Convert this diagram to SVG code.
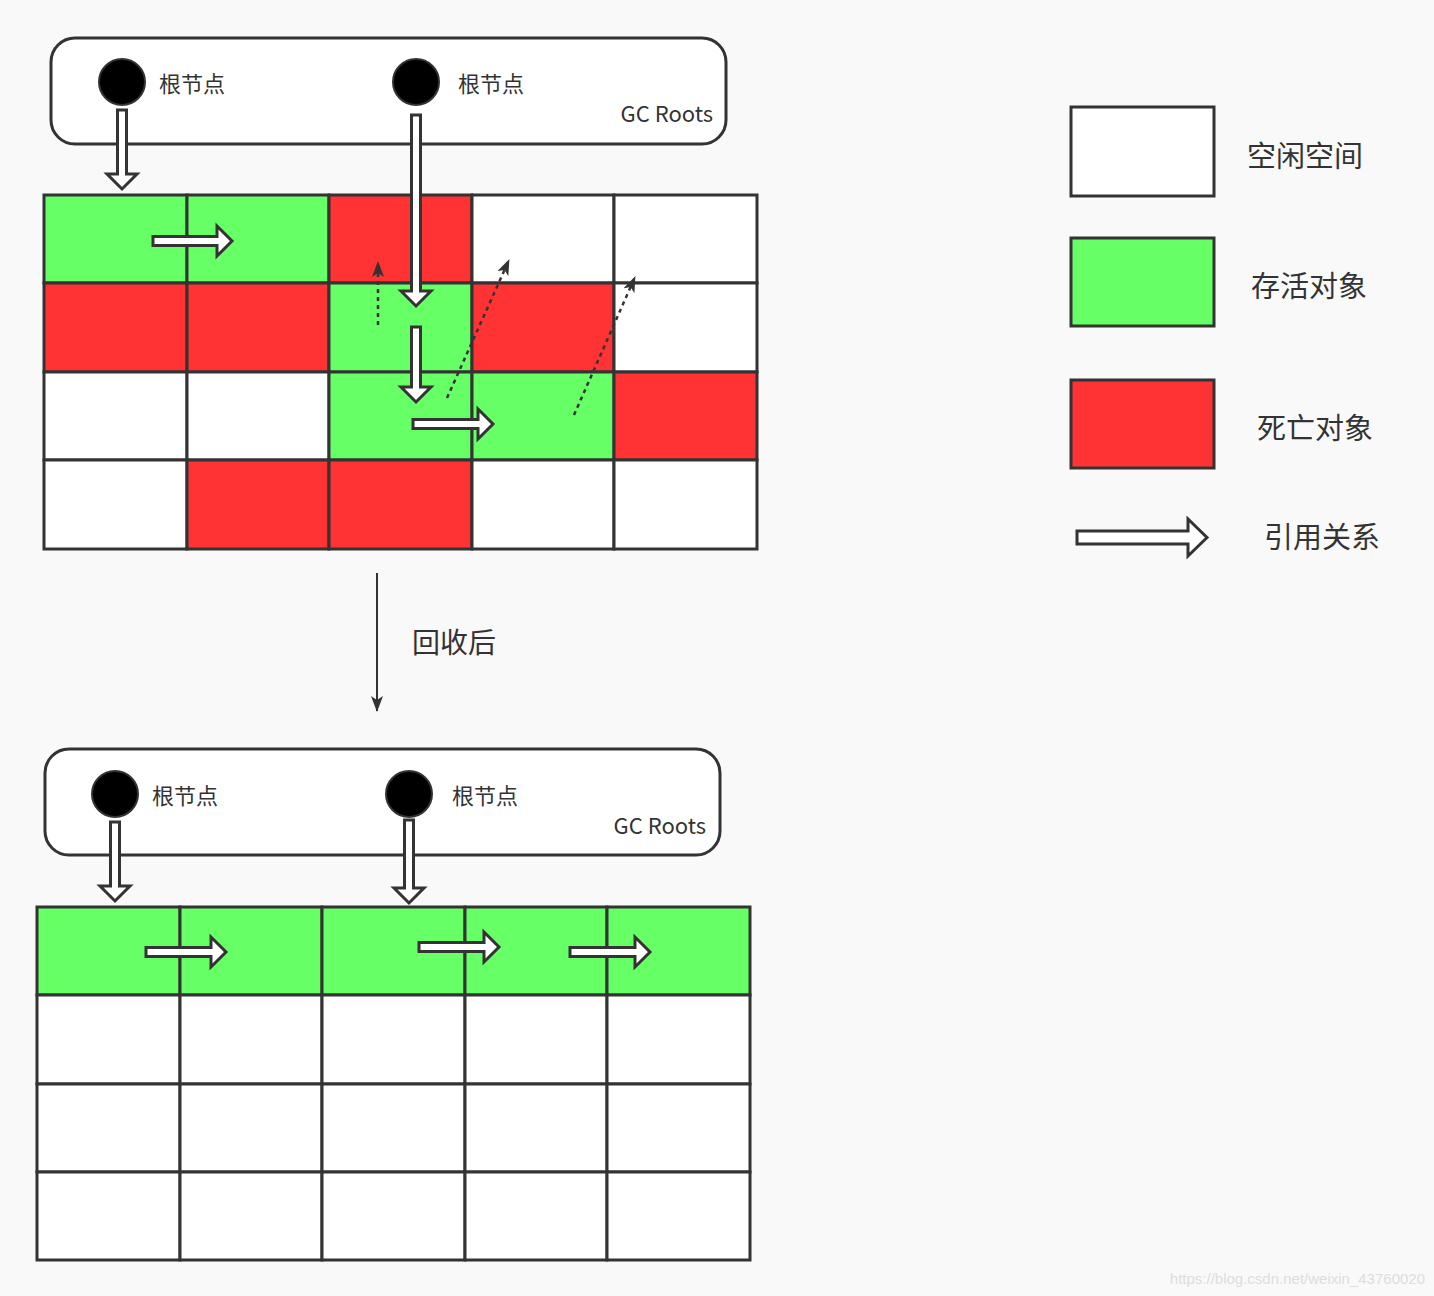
<svg xmlns="http://www.w3.org/2000/svg" width="1434" height="1296" viewBox="0 0 1434 1296">
<style>
.box{fill:#fff;stroke:#333;stroke-width:3}
.g{fill:#66ff66;stroke:#333;stroke-width:3}
.r{fill:#ff3333;stroke:#333;stroke-width:3}
.w{fill:#fff;stroke:#333;stroke-width:3}
.ha{fill:#fff;stroke:#333;stroke-width:3;stroke-linejoin:miter}
.dot{fill:none;stroke:#333;stroke-width:2.5;stroke-dasharray:4 4}
.t{font-family:"Noto Sans CJK SC","Noto Sans",sans-serif;fill:#333}
</style>
<defs>
<marker id="ah" markerWidth="10" markerHeight="10" refX="9" refY="5" orient="auto" markerUnits="userSpaceOnUse" viewBox="0 0 10 10"><path d="M0,0 L10,5 L0,10 Z" fill="#333"/></marker>
<marker id="ah2" markerWidth="16" markerHeight="12" refX="15" refY="6" orient="auto" markerUnits="userSpaceOnUse" viewBox="0 0 16 12"><path d="M0,0 L16,6 L0,12 L4,6 Z" fill="#333"/></marker>
</defs>
<rect width="1434" height="1296" fill="#f9f9f9"/>

<g id="roots-top">
<rect x="51" y="38" width="675" height="106" rx="24" class="box"/>
<ellipse cx="122" cy="82" rx="23" ry="23" fill="#000" stroke="#333" stroke-width="2"/>
<ellipse cx="416" cy="82" rx="23" ry="23" fill="#000" stroke="#333" stroke-width="2"/>
<text x="159" y="92" font-size="22" class="t">根节点</text>
<text x="458" y="92" font-size="22" class="t">根节点</text>
<text x="713" y="122" font-size="22" class="t" text-anchor="end">GC Roots</text>
</g>

<g id="grid-top">
<rect x="44" y="195" width="143" height="88" class="g"/><rect x="187" y="195" width="142" height="88" class="g"/><rect x="329" y="195" width="143" height="88" class="r"/><rect x="472" y="195" width="142" height="88" class="w"/><rect x="614" y="195" width="143" height="88" class="w"/>
<rect x="44" y="283" width="143" height="89" class="r"/><rect x="187" y="283" width="142" height="89" class="r"/><rect x="329" y="283" width="143" height="89" class="g"/><rect x="472" y="283" width="142" height="89" class="r"/><rect x="614" y="283" width="143" height="89" class="w"/>
<rect x="44" y="372" width="143" height="88" class="w"/><rect x="187" y="372" width="142" height="88" class="w"/><rect x="329" y="372" width="143" height="88" class="g"/><rect x="472" y="372" width="142" height="88" class="g"/><rect x="614" y="372" width="143" height="88" class="r"/>
<rect x="44" y="460" width="143" height="89" class="w"/><rect x="187" y="460" width="142" height="89" class="r"/><rect x="329" y="460" width="143" height="89" class="r"/><rect x="472" y="460" width="142" height="89" class="w"/><rect x="614" y="460" width="143" height="89" class="w"/>
</g>

<g id="grid-bottom">
<rect x="37" y="907" width="143" height="88" class="g"/><rect x="180" y="907" width="142" height="88" class="g"/><rect x="322" y="907" width="143" height="88" class="g"/><rect x="465" y="907" width="142" height="88" class="g"/><rect x="607" y="907" width="143" height="88" class="g"/>
<rect x="37" y="995" width="143" height="89" class="w"/><rect x="180" y="995" width="142" height="89" class="w"/><rect x="322" y="995" width="143" height="89" class="w"/><rect x="465" y="995" width="142" height="89" class="w"/><rect x="607" y="995" width="143" height="89" class="w"/>
<rect x="37" y="1084" width="143" height="88" class="w"/><rect x="180" y="1084" width="142" height="88" class="w"/><rect x="322" y="1084" width="143" height="88" class="w"/><rect x="465" y="1084" width="142" height="88" class="w"/><rect x="607" y="1084" width="143" height="88" class="w"/>
<rect x="37" y="1172" width="143" height="88" class="w"/><rect x="180" y="1172" width="142" height="88" class="w"/><rect x="322" y="1172" width="143" height="88" class="w"/><rect x="465" y="1172" width="142" height="88" class="w"/><rect x="607" y="1172" width="143" height="88" class="w"/>
</g>

<g id="roots-bottom">
<rect x="45" y="749" width="675" height="106" rx="24" class="box"/>
<ellipse cx="115" cy="794" rx="23" ry="23" fill="#000" stroke="#333" stroke-width="2"/>
<ellipse cx="409" cy="794" rx="23" ry="23" fill="#000" stroke="#333" stroke-width="2"/>
<text x="152" y="804" font-size="22" class="t">根节点</text>
<text x="452" y="804" font-size="22" class="t">根节点</text>
<text x="706" y="834" font-size="22" class="t" text-anchor="end">GC Roots</text>
</g>

<g id="connectors">
<path class="ha" d="M117.5,110 H126.5 V174 H137 L122,189 L107,174 H117.5 Z"/>
<path class="ha" d="M411.5,115 H420.5 V291 H431 L416,306 L401,291 H411.5 Z"/>
<path class="ha" d="M411.5,327 H420.5 V387 H431 L416,402 L401,387 H411.5 Z"/>
<path class="ha" d="M153,236.5 V245.5 H217 V256 L232,241 L217,226 V236.5 Z"/>
<path class="ha" d="M413,419.5 V428.5 H478 V439 L493,424 L478,409 V419.5 Z"/>
<path class="dot" d="M378,325 V262" marker-end="url(#ah2)"/>
<path class="dot" d="M447,398 L509,260" marker-end="url(#ah2)"/>
<path class="dot" d="M574,415 L635,277" marker-end="url(#ah2)"/>
<path d="M377,573 V711" stroke="#333" stroke-width="2" fill="none" marker-end="url(#ah2)"/>
<path class="ha" d="M110.5,822 H119.5 V886 H130 L115,901 L100,886 H110.5 Z"/>
<path class="ha" d="M404.5,820 H413.5 V888 H424 L409,903 L394,888 H404.5 Z"/>
<path class="ha" d="M146,947.5 V956.5 H211 V967 L226,952 L211,937 V947.5 Z"/>
<path class="ha" d="M419,942.5 V951.5 H484 V962 L499,947 L484,932 V942.5 Z"/>
<path class="ha" d="M570,947.5 V956.5 H635 V967 L650,952 L635,937 V947.5 Z"/>
</g>
<text x="412" y="653" font-size="28" class="t">回收后</text>

<g id="legend">
<rect x="1071" y="107" width="143" height="89" class="w"/>
<rect x="1071" y="238" width="143" height="88" class="g"/>
<rect x="1071" y="380" width="143" height="88" class="r"/>
<path class="ha" d="M1077,531 V544 H1188 V556 L1207,537.5 L1188,519 V531 Z"/>
<text x="1247" y="167" font-size="29" class="t">空闲空间</text>
<text x="1251" y="297" font-size="29" class="t">存活对象</text>
<text x="1257" y="439" font-size="29" class="t">死亡对象</text>
<text x="1264" y="548" font-size="29" class="t">引用关系</text>
</g>
<text x="1425" y="1284" font-size="15" text-anchor="end" font-family="Liberation Sans,sans-serif" fill="#dddddd">https://blog.csdn.net/weixin_43760020</text>
</svg>
